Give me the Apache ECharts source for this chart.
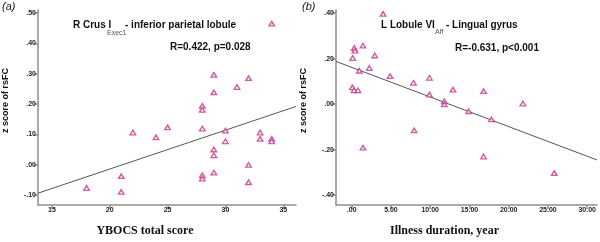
<!DOCTYPE html>
<html>
<head>
<meta charset="utf-8">
<script src="https://cdn.jsdelivr.net/npm/echarts@6/dist/echarts.min.js"></script>
<style>
  html, body { margin: 0; padding: 0; background: #fff; }
  #chart { width: 600px; height: 242px; }
</style>
</head>
<body>
<div id="chart"></div>
<script>
// panel (a): YBOCS total score vs z score
const ybocsX = [18, 21, 21, 22, 34, 29, 32, 29, 31, 28, 28, 25, 24, 28, 30, 30, 33, 33, 34, 34, 29, 29, 32, 28, 28, 29, 32];
const ybocsY = [-0.077, -0.038, -0.09, 0.106, 0.465, 0.296, 0.285, 0.238, 0.256, 0.194, 0.181, 0.123, 0.09, 0.119, 0.112, 0.077, 0.106, 0.085, 0.085, 0.077, 0.05, 0.031, -0.001, -0.035, -0.046, -0.026, -0.058];
const ybocsFit = [[13.8, -0.094], [36.1, 0.192]];
const ybocsTicksX = [15, 20, 25, 30, 35];
const ybocsTicksY = [-0.1, 0, 0.1, 0.2, 0.3, 0.4, 0.5];

// panel (b): illness duration vs z score
const durX = [4, 0.13, 0.33, 0.42, 1.44, 2.93, 2.25, 0.97, 0.08, 0.3, 0.8, 1.44, 4.89, 7.86, 7.95, 9.9, 9.9, 11.8, 11.8, 12.9, 16.8, 14.9, 17.8, 21.8, 16.8, 25.8];
const durY = [0.397, 0.203, 0.247, 0.235, 0.257, 0.214, 0.159, 0.147, 0.074, 0.061, 0.061, -0.191, 0.123, 0.094, -0.115, 0.116, 0.042, 0.013, -0.001, 0.064, 0.057, -0.031, -0.067, 0.003, -0.23, -0.303];
const durFit = [[-2.0, 0.188], [31.25, -0.245]];
const durTicksX = [0, 5, 10, 15, 20, 25, 30];
const durTicksY = [-0.4, -0.2, 0, 0.2, 0.4];

const markColor = '#c2378a';
const axisColor = '#8f8f8f';

// SPSS style: .50, -.10, .00
const fmt = v => v.toFixed(2).replace(/^(-?)0\./, '$1.');

function pairs(xs, ys) {
  return xs.map((x, i) => [x, ys[i]]);
}

function valueAxis(gridIndex, min, max, ticks, opts, formatter) {
  return Object.assign({
    type: 'value',
    gridIndex: gridIndex,
    min: min,
    max: max,
    splitLine: { show: false },
    axisLine: { show: true, onZero: false, lineStyle: { color: axisColor, width: 1.5 } },
    axisTick: { show: true, length: 4, customValues: ticks, lineStyle: { color: axisColor, width: 1.5 } },
    axisLabel: {
      customValues: ticks,
      formatter: formatter || fmt,
      color: '#222',
      fontSize: 7,
      fontWeight: 'bold',
      fontFamily: 'Liberation Sans, Arial',
      margin: 2
    }
  }, opts);
}

const yName = {
  name: 'z score of rsFC',
  nameLocation: 'middle',
  nameGap: 28,
  nameTextStyle: { fontSize: 9, fontWeight: 'bold', fontFamily: 'Liberation Sans, Arial', color: '#111', padding: [0, 0, 0, 14] }
};

function xName(text) {
  return {
    name: text,
    nameLocation: 'middle',
    nameGap: 20,
    nameTextStyle: { fontSize: 12, fontWeight: 'bold', fontFamily: 'Liberation Serif, Times New Roman', color: '#111', padding: [0, 44, 0, 0] }
  };
}

function scatter(i, data) {
  return {
    type: 'scatter',
    xAxisIndex: i,
    yAxisIndex: i,
    data: data,
    symbol: 'triangle',
    symbolSize: [5.5, 4.5],
    itemStyle: { color: '#fff', borderColor: markColor, borderWidth: 1.4 },
    z: 3
  };
}

function fitLine(i, data) {
  return {
    type: 'line',
    xAxisIndex: i,
    yAxisIndex: i,
    data: data,
    symbol: 'none',
    lineStyle: { color: '#555', width: 1 },
    z: 2
  };
}

const bold = 'bold 10px "Liberation Sans", Arial';
function txt(x, y, text, font, color) {
  return { type: 'text', x: x, y: y, style: { text: text, font: font, fill: color || '#111', textVerticalAlign: 'middle' } };
}

const chart = echarts.init(document.getElementById('chart'));
chart.setOption({
  backgroundColor: '#fff',
  animation: false,
  grid: [
    { left: 36, top: 10, width: 260, height: 196 },
    { left: 336, top: 10, width: 261, height: 196 }
  ],
  xAxis: [
    valueAxis(0, 13.8, 36.1, ybocsTicksX, xName('YBOCS total score'), v => String(v)),
    valueAxis(1, -2, 31.25, durTicksX, xName('Illness duration, year'))
  ],
  yAxis: [
    valueAxis(0, -0.133, 0.51, ybocsTicksY, yName),
    valueAxis(1, -0.443, 0.414, durTicksY, yName)
  ],
  series: [
    fitLine(0, ybocsFit),
    scatter(0, pairs(ybocsX, ybocsY)),
    fitLine(1, durFit),
    scatter(1, pairs(durX, durY))
  ],
  graphic: [
    txt(2, 7, '(a)', 'italic 11px "Liberation Sans", Arial', '#222'),
    txt(302, 7, '(b)', 'italic 11px "Liberation Sans", Arial', '#222'),
    txt(73, 25, 'R Crus I', bold),
    txt(107, 33, 'Exec1', '7px "Liberation Sans", Arial', '#555'),
    txt(125, 25, '- inferior parietal lobule', bold),
    txt(170, 47, 'R=0.422, p=0.028', bold),
    txt(381, 25, 'L Lobule VI', bold),
    txt(435, 32, 'Aff', '7px "Liberation Sans", Arial', '#555'),
    txt(446, 25, '- Lingual gyrus', bold),
    txt(455, 48, 'R=-0.631, p<0.001', bold)
  ]
});
</script>
</body>
</html>
